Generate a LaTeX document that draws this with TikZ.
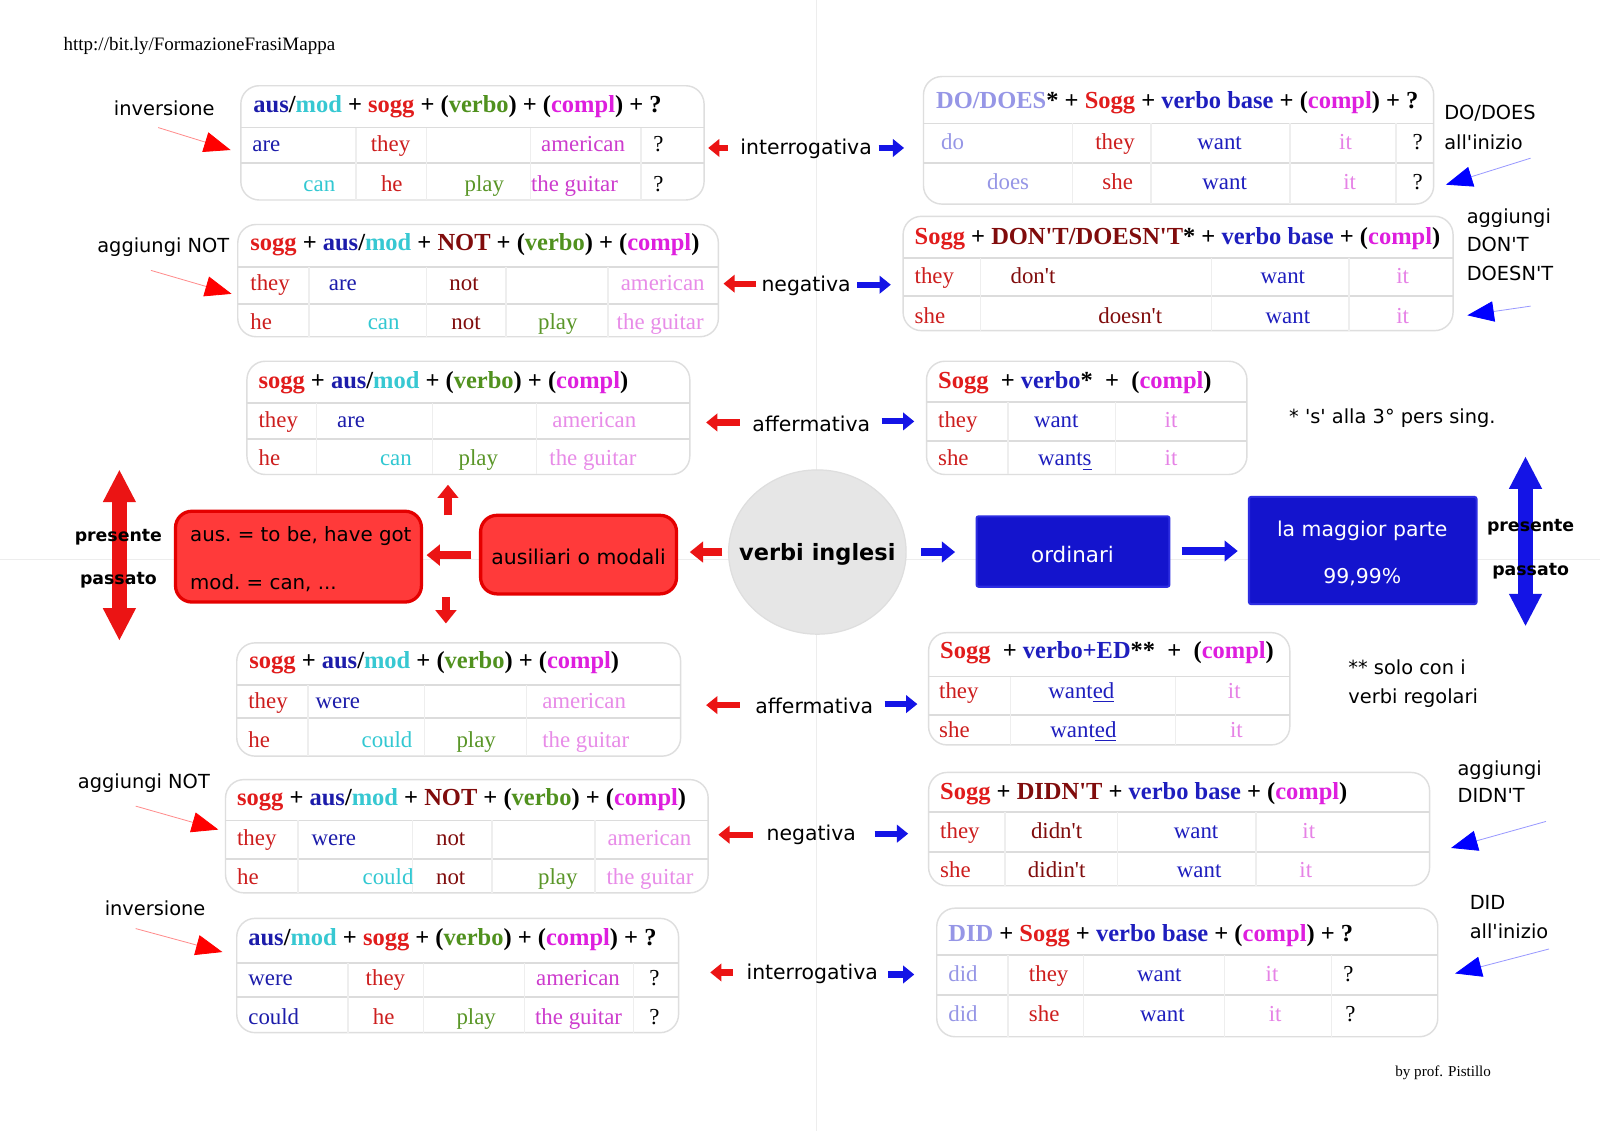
\documentclass[tikz,border=0pt]{standalone}
\usepackage{fontspec}
\setmainfont{Liberation Serif}
\newfontfamily\lab{DejaVu Sans}
\usetikzlibrary{arrows.meta,fit,shapes.geometric}
\definecolor{cSogg}{RGB}{225,28,28}
\definecolor{cAus}{RGB}{28,28,170}
\definecolor{cMod}{RGB}{55,200,210}
\definecolor{cVerbo}{RGB}{80,145,30}
\definecolor{cCompl}{RGB}{222,30,222}
\definecolor{cNot}{RGB}{128,12,12}
\definecolor{cDo}{RGB}{150,150,230}
\definecolor{cBase}{RGB}{30,30,190}
\definecolor{cThey}{RGB}{205,30,30}
\definecolor{cAmA}{RGB}{205,60,205}
\definecolor{cAmB}{RGB}{232,140,232}
\definecolor{cIt}{RGB}{230,130,230}
\definecolor{cPlay}{RGB}{90,150,40}
\definecolor{cCan}{RGB}{50,200,210}
\definecolor{cBorder}{RGB}{222,222,222}
\definecolor{cRow}{RGB}{220,220,220}
\definecolor{cCol}{RGB}{238,238,238}
\definecolor{cArrRed}{RGB}{235,20,20}
\definecolor{cArrBlue}{RGB}{20,20,230}
\definecolor{cRedFill}{RGB}{255,58,58}
\definecolor{cRedDraw}{RGB}{228,0,0}
\definecolor{cBlueFill}{RGB}{20,20,205}
\definecolor{cBlueDraw}{RGB}{45,45,225}
\definecolor{cCirc}{RGB}{230,230,230}
\newcommand\C[2]{\textcolor{#1}{#2}}
\newcommand\ap{\textquotesingle}
\tikzset{
 tbl/.style={draw=cBorder, line width=0.7pt, rounded corners=9pt, fill=white, inner sep=0pt},
 rowl/.style={draw=cRow, line width=0.9pt},
 coll/.style={draw=cCol, line width=0.7pt},
 hdr/.style={anchor=mid west, inner sep=0pt, yshift=-1.5pt, font=\fontsize{12}{14}\selectfont\bfseries},
 cell/.style={anchor=mid west, inner sep=0pt, yshift=-1.5pt, font=\fontsize{11.2}{13}\selectfont},
 lbl/.style={inner sep=0pt, yshift=-1pt, font=\lab\fontsize{9.5}{11}\selectfont},
 lblw/.style={lbl, anchor=mid west},
 lblc/.style={inner sep=0pt, yshift=-1pt, font=\lab\fontsize{10}{12}\selectfont},
 lblb/.style={inner sep=0pt, yshift=-1.5pt, font=\lab\bfseries\fontsize{8.5}{10}\selectfont},
 smallred/.style={draw=cArrRed, line width=3pt, -{Triangle[length=5.5pt,width=8.5pt]}},
 smallblue/.style={draw=cArrBlue, line width=3pt, -{Triangle[length=5.5pt,width=8.5pt]}},
 midred/.style={draw=cArrRed, line width=4pt, -{Triangle[length=6.5pt,width=10pt]}},
 midblue/.style={draw=cArrBlue, line width=4pt, -{Triangle[length=6.5pt,width=10pt]}},
 bigred/.style={draw=cArrRed, line width=7pt, {Triangle[length=16pt,width=15pt]}-{Triangle[length=16pt,width=15pt]}},
 bigblue/.style={draw=cArrBlue, line width=7pt, {Triangle[length=16pt,width=15pt]}-{Triangle[length=16pt,width=15pt]}},
 ptrred/.style={draw=red!45, line width=0.4pt, -{Triangle[length=13pt,width=10pt,color=red]}},
 ptrblue/.style={draw=blue!40, line width=0.4pt, -{Triangle[length=13pt,width=10pt,color=blue]}},
 redbox/.style={fill=cRedFill, draw=cRedDraw, line width=1.6pt, rounded corners=8pt, inner sep=0pt},
 bluebox/.style={fill=cBlueFill, draw=cBlueDraw, line width=1pt, rounded corners=1pt, inner sep=0pt},
 boxtxt/.style={inner sep=0pt, yshift=-1pt, font=\lab\fontsize{10}{12}\selectfont},
}
\newcommand\tablebox[8]{%
 \node[tbl, fit={(#2,#3) (#4,#5)}] (#1) {};
 \draw[rowl] (#2,#6) -- (#4,#6);
 \draw[rowl] (#2,#7) -- (#4,#7);
 \foreach \cx in {#8} \draw[coll] (\cx,#6) -- (\cx,#5);
}
\newcommand\cl[5]{\node[cell,text=#4] (#1) at (#2,#3) {#5};}
\newcommand\hd[4]{\node[hdr] (#1) at (#2,#3) {#4};}
\begin{document}
\begin{tikzpicture}[x=0.5pt,y=-0.5pt]
\useasboundingbox (0,0) rectangle (1568,1108);
\fill[white] (0,0) rectangle (1568,1108);
% faint page lines
\draw[black!7, line width=0.6pt] (800,0) -- (800,1108);
\draw[black!7, line width=0.6pt] (0,548) -- (1568,548);

\node[anchor=mid west, inner sep=0pt, yshift=-1pt, font=\fontsize{9.3}{11}\selectfont] (url) at (62,43) {http://bit.ly/FormazioneFrasiMappa};
\node[anchor=mid west, inner sep=0pt, yshift=-1pt, font=\fontsize{7.4}{9}\selectfont] (by) at (1367,1048) {by prof. Pistillo};

% ---------- T1
\tablebox{t1}{236}{84}{690}{196}{125}{160}{349,418,520,628}
\hd{t1h}{248}{103}{\C{cAus}{aus}/\C{cMod}{mod} + \C{cSogg}{sogg} + (\C{cVerbo}{verbo}) + (\C{cCompl}{compl}) + ?}
\cl{t1a}{247}{141}{cAus}{are}
\cl{t1b}{363}{141}{cThey}{they}
\cl{t1c}{530}{141}{cAmA}{american}
\cl{t1d}{640}{141}{black}{?}
\cl{t1e}{297}{180}{cCan}{can}
\cl{t1f}{373}{180}{cThey}{he}
\cl{t1g}{455}{180}{cPlay}{play}
\cl{t1i}{520}{180}{cAmA}{the guitar}
\cl{t1j}{640}{180}{black}{?}

% ---------- T2
\tablebox{t2}{905}{75}{1405}{200}{121}{160}{1051,1128,1264,1368}
\hd{t2h}{917}{99}{\C{cDo}{DO/DOES}* + \C{cSogg}{Sogg} + \C{cBase}{verbo base} + (\C{cCompl}{compl}) + ?}
\cl{t2a}{922}{139}{cDo}{do}
\cl{t2b}{1073}{139}{cThey}{they}
\cl{t2c}{1173}{139}{cBase}{want}
\cl{t2d}{1312}{139}{cIt}{it}
\cl{t2e}{1384}{139}{black}{?}
\cl{t2f}{967}{178}{cDo}{does}
\cl{t2g}{1080}{178}{cThey}{she}
\cl{t2i}{1178}{178}{cBase}{want}
\cl{t2j}{1316}{178}{cIt}{it}
\cl{t2k}{1384}{178}{black}{?}

% ---------- T3
\tablebox{t3}{233}{220}{704}{330}{262}{298}{303,418,496,596}
\hd{t3h}{245}{238}{\C{cSogg}{sogg} + \C{cAus}{aus}/\C{cMod}{mod} + \C{cNot}{NOT} + (\C{cVerbo}{verbo}) + (\C{cCompl}{compl})}
\cl{t3a}{245}{277}{cThey}{they}
\cl{t3b}{322}{277}{cAus}{are}
\cl{t3c}{440}{277}{cNot}{not}
\cl{t3d}{608}{277}{cAmB}{american}
\cl{t3e}{245}{315}{cThey}{he}
\cl{t3f}{360}{315}{cCan}{can}
\cl{t3g}{442}{315}{cNot}{not}
\cl{t3i}{527}{315}{cPlay}{play}
\cl{t3j}{604}{315}{cAmB}{the guitar}

% ---------- T4
\tablebox{t4}{885}{212}{1424}{324}{253}{290}{961,1187,1322}
\hd{t4h}{896}{232}{\C{cSogg}{Sogg} + \C{cNot}{DON\ap T/DOESN\ap T}* + \C{cBase}{verbo base} + (\C{cCompl}{compl})}
\cl{t4a}{896}{270}{cThey}{they}
\cl{t4b}{990}{270}{cNot}{don\ap t}
\cl{t4c}{1235}{270}{cBase}{want}
\cl{t4d}{1368}{270}{cIt}{it}
\cl{t4e}{896}{309}{cThey}{she}
\cl{t4f}{1076}{309}{cNot}{doesn\ap t}
\cl{t4g}{1240}{309}{cBase}{want}
\cl{t4i}{1368}{309}{cIt}{it}

% ---------- T5
\tablebox{t5}{242}{354}{676}{465}{395}{430}{310,424,526}
\hd{t5h}{253}{373}{\C{cSogg}{sogg} + \C{cAus}{aus}/\C{cMod}{mod} + (\C{cVerbo}{verbo}) + (\C{cCompl}{compl})}
\cl{t5a}{253}{411}{cThey}{they}
\cl{t5b}{330}{411}{cAus}{are}
\cl{t5c}{541}{411}{cAmB}{american}
\cl{t5d}{253}{449}{cThey}{he}
\cl{t5e}{372}{449}{cCan}{can}
\cl{t5f}{449}{449}{cPlay}{play}
\cl{t5g}{538}{449}{cAmB}{the guitar}

% ---------- T6
\tablebox{t6}{908}{354}{1222}{465}{394}{432}{988,1093}
\hd{t6h}{919}{373}{\C{cSogg}{Sogg}\ \ + \C{cBase}{verbo}*\ \ +\ \ (\C{cCompl}{compl})}
\cl{t6a}{919}{411}{cThey}{they}
\cl{t6b}{1013}{411}{cBase}{want}
\cl{t6c}{1141}{411}{cIt}{it}
\cl{t6d}{919}{449}{cThey}{she}
\cl{t6e}{1017}{449}{cBase}{want\underline{s}}
\cl{t6f}{1141}{449}{cIt}{it}

% ---------- T7
\tablebox{t7}{232}{630}{667}{741}{671}{704}{302,416,516}
\hd{t7h}{244}{648}{\C{cSogg}{sogg} + \C{cAus}{aus}/\C{cMod}{mod} + (\C{cVerbo}{verbo}) + (\C{cCompl}{compl})}
\cl{t7a}{243}{687}{cThey}{they}
\cl{t7b}{309}{687}{cAus}{were}
\cl{t7c}{531}{687}{cAmB}{american}
\cl{t7d}{243}{725}{cThey}{he}
\cl{t7e}{354}{725}{cCan}{could}
\cl{t7f}{447}{725}{cPlay}{play}
\cl{t7g}{531}{725}{cAmB}{the guitar}

% ---------- T8
\tablebox{t8}{910}{620}{1264}{730}{663}{701}{990,1152}
\hd{t8h}{921}{638}{\C{cSogg}{Sogg}\ \ + \C{cBase}{verbo+ED}**\ \ +\ \ (\C{cCompl}{compl})}
\cl{t8a}{920}{677}{cThey}{they}
\cl{t8b}{1027}{677}{cBase}{want\underline{ed}}
\cl{t8c}{1203}{677}{cIt}{it}
\cl{t8d}{920}{715}{cThey}{she}
\cl{t8e}{1029}{715}{cBase}{want\underline{ed}}
\cl{t8f}{1205}{715}{cIt}{it}

% ---------- T9
\tablebox{t9}{221}{764}{694}{875}{804}{842}{292,404,482,583}
\hd{t9h}{232}{782}{\C{cSogg}{sogg} + \C{cAus}{aus}/\C{cMod}{mod} + \C{cNot}{NOT} + (\C{cVerbo}{verbo}) + (\C{cCompl}{compl})}
\cl{t9a}{232}{821}{cThey}{they}
\cl{t9b}{305}{821}{cAus}{were}
\cl{t9c}{427}{821}{cNot}{not}
\cl{t9d}{595}{821}{cAmB}{american}
\cl{t9e}{232}{859}{cThey}{he}
\cl{t9f}{355}{859}{cCan}{could}
\cl{t9g}{427}{859}{cNot}{not}
\cl{t9i}{527}{859}{cPlay}{play}
\cl{t9j}{594}{859}{cAmB}{the guitar}

% ---------- T10
\tablebox{t10}{910}{757}{1401}{868}{796}{835}{985,1095,1231}
\hd{t10h}{921}{776}{\C{cSogg}{Sogg} + \C{cNot}{DIDN\ap T} + \C{cBase}{verbo base} + (\C{cCompl}{compl})}
\cl{t10a}{921}{814}{cThey}{they}
\cl{t10b}{1010}{814}{cNot}{didn\ap t}
\cl{t10c}{1150}{814}{cBase}{want}
\cl{t10d}{1276}{814}{cIt}{it}
\cl{t10e}{921}{852}{cThey}{she}
\cl{t10f}{1007}{852}{cNot}{didin\ap t}
\cl{t10g}{1153}{852}{cBase}{want}
\cl{t10i}{1273}{852}{cIt}{it}

% ---------- T11
\tablebox{t11}{232}{900}{665}{1012}{944}{977}{341,415,514,621}
\hd{t11h}{243}{919}{\C{cAus}{aus}/\C{cMod}{mod} + \C{cSogg}{sogg} + (\C{cVerbo}{verbo}) + (\C{cCompl}{compl}) + ?}
\cl{t11a}{243}{958}{cAus}{were}
\cl{t11b}{358}{958}{cThey}{they}
\cl{t11c}{525}{958}{cAmA}{american}
\cl{t11d}{636}{958}{black}{?}
\cl{t11e}{243}{996}{cAus}{could}
\cl{t11f}{365}{996}{cThey}{he}
\cl{t11g}{447}{996}{cPlay}{play}
\cl{t11i}{524}{996}{cAmA}{the guitar}
\cl{t11j}{636}{996}{black}{?}

% ---------- T12
\tablebox{t12}{918}{890}{1409}{1016}{936}{975}{988,1062,1200,1305}
\hd{t12h}{929}{915}{\C{cDo}{DID} + \C{cSogg}{Sogg} + \C{cBase}{verbo base} + (\C{cCompl}{compl}) + ?}
\cl{t12a}{929}{954}{cDo}{did}
\cl{t12b}{1008}{954}{cThey}{they}
\cl{t12c}{1114}{954}{cBase}{want}
\cl{t12d}{1240}{954}{cIt}{it}
\cl{t12e}{1316}{954}{black}{?}
\cl{t12f}{929}{993}{cDo}{did}
\cl{t12g}{1008}{993}{cThey}{she}
\cl{t12i}{1117}{993}{cBase}{want}
\cl{t12j}{1243}{993}{cIt}{it}
\cl{t12k}{1318}{993}{black}{?}

% ---------- side labels
\node[lbl] (inv1) at (161,104) {inversione};
\node[lbl] (agg1) at (160,240) {aggiungi NOT};
\node[lblw] (dod1) at (1415,111) {DO/DOES};
\node[lblw] (dod2) at (1415,140) {all\ap inizio};
\node[lblw] (don1) at (1437,212) {aggiungi};
\node[lblw] (don2) at (1437,240) {DON\ap T};
\node[lblw] (don3) at (1437,268) {DOESN\ap T};
\node[lblw] (star) at (1263,408) {* \ap s\ap\ alla 3° pers sing.};
\node[lblw] (sstar1) at (1321,654) {** solo con i};
\node[lblw] (sstar2) at (1321,683) {verbi regolari};
\node[lbl] (agg2) at (141,765) {aggiungi NOT};
\node[lblw] (did1) at (1428,753) {aggiungi};
\node[lblw] (did2) at (1428,780) {DIDN\ap T};
\node[lbl] (inv2) at (152,888) {inversione};
\node[lblw] (di1) at (1440,885) {DID};
\node[lblw] (di2) at (1440,913) {all\ap inizio};

% pointer arrows
\coordinate (p1s) at (155,125); \coordinate (p1e) at (226,147);
\coordinate (p2s) at (148,265); \coordinate (p2e) at (227,288);
\coordinate (p3s) at (133,790); \coordinate (p3e) at (214,813);
\coordinate (p4s) at (133,910); \coordinate (p4e) at (218,933);
\draw[ptrred] (p1s) -- (p1e);
\draw[ptrred] (p2s) -- (p2e);
\draw[ptrred] (p3s) -- (p3e);
\draw[ptrred] (p4s) -- (p4e);
\coordinate (b1s) at (1500,155); \coordinate (b1e) at (1417,181);
\coordinate (b2s) at (1500,300); \coordinate (b2e) at (1438,309);
\coordinate (b3s) at (1515,805); \coordinate (b3e) at (1422,831);
\coordinate (b4s) at (1518,930); \coordinate (b4e) at (1426,954);
\draw[ptrblue] (b1s) -- (b1e);
\draw[ptrblue] (b2s) -- (b2e);
\draw[ptrblue] (b3s) -- (b3e);
\draw[ptrblue] (b4s) -- (b4e);

% ---------- centre labels with arrows
\node[lblc] (q1) at (790,144) {interrogativa};
\node[lblc] (n1) at (790,278) {negativa};
\node[lblc] (a1) at (795,413) {affermativa};
\node[lblc] (a2) at (798,690) {affermativa};
\node[lblc] (n2) at (795,816) {negativa};
\node[lblc] (q2) at (796,952) {interrogativa};
\coordinate (q1r) at (713,145); \coordinate (q1re) at (694,145);
\coordinate (q1b) at (861,145); \coordinate (q1be) at (886,145);
\coordinate (n1r) at (741,278); \coordinate (n1re) at (709,278);
\coordinate (n1b) at (840,279); \coordinate (n1be) at (873,279);
\coordinate (a1r) at (725,414); \coordinate (a1re) at (692,414);
\coordinate (a1b) at (864,413); \coordinate (a1be) at (896,413);
\coordinate (a2r) at (725,691); \coordinate (a2re) at (692,691);
\coordinate (a2b) at (867,690); \coordinate (a2be) at (899,690);
\coordinate (n2r) at (738,818); \coordinate (n2re) at (704,818);
\coordinate (n2b) at (857,817); \coordinate (n2be) at (890,817);
\coordinate (q2r) at (718,953); \coordinate (q2re) at (696,953);
\coordinate (q2b) at (870,955); \coordinate (q2be) at (896,955);
\draw[smallred] (q1r) -- (q1re);
\draw[smallblue] (q1b) -- (q1be);
\draw[smallred] (n1r) -- (n1re);
\draw[smallblue] (n1b) -- (n1be);
\draw[smallred] (a1r) -- (a1re);
\draw[smallblue] (a1b) -- (a1be);
\draw[smallred] (a2r) -- (a2re);
\draw[smallblue] (a2b) -- (a2be);
\draw[smallred] (n2r) -- (n2re);
\draw[smallblue] (n2b) -- (n2be);
\draw[smallred] (q2r) -- (q2re);
\draw[smallblue] (q2b) -- (q2be);

% ---------- middle row
\node[redbox, fit={(172,501) (413,590)}] (aux) {};
\node[boxtxt, anchor=mid west, font=\lab\fontsize{9.7}{12}\selectfont] (aux1) at (186,524) {aus.\ = to be, have got};
\node[boxtxt, anchor=mid west, font=\lab\fontsize{9.7}{12}\selectfont] (aux2) at (186,571) {mod.\ = can, ...};
\node[redbox, fit={(471,505) (663,582)}] (am) {};
\node[boxtxt] (amt) at (567,544) {ausiliari o modali};
\node[ellipse, fill=cCirc, draw=black!13, line width=0.6pt, minimum width=87pt, minimum height=80.5pt, inner sep=0pt] (vi) at (801,541) {};
\node[inner sep=0pt, yshift=-1pt, font=\lab\bfseries\fontsize{11}{13}\selectfont] (vit) at (vi.center) {verbi inglesi};
\node[bluebox, fit={(957,506) (1146,575)}] (ord) {};
\node[boxtxt, text=white, font=\lab\fontsize{10.5}{12}\selectfont] (ordt) at (1051,541) {ordinari};
\node[bluebox, fit={(1224,487) (1447,592)}] (maj) {};
\node[boxtxt, text=white] (maj1) at (1335,518) {la maggior parte};
\node[boxtxt, text=white] (maj2) at (1335,564) {99,99\%};

\coordinate (m1s) at (708,541); \coordinate (m1e) at (676,541);
\coordinate (m2s) at (462,544); \coordinate (m2e) at (418,544);
\coordinate (m3s) at (439,505); \coordinate (m3e) at (439,475);
\coordinate (m4s) at (437,585); \coordinate (m4e) at (437,611);
\coordinate (m5s) at (903,541); \coordinate (m5e) at (936,541);
\coordinate (m6s) at (1158,540); \coordinate (m6e) at (1213,540);
\draw[midred] (m1s) -- (m1e);
\draw[midred] (m2s) -- (m2e);
\draw[midred] (m3s) -- (m3e);
\draw[midred] (m4s) -- (m4e);
\draw[midblue] (m5s) -- (m5e);
\draw[midblue] (m6s) -- (m6e);

\coordinate (r1) at (117,460); \coordinate (r2) at (117,628);
\draw[bigred] (r1) -- (r2);
\coordinate (u1) at (1495,447); \coordinate (u2) at (1495,614);
\draw[bigblue] (u1) -- (u2);
\node[lblb] (pl1) at (116,523) {presente};
\node[lblb] (pl2) at (116,566) {passato};
\node[lblb] (pr1) at (1500,514) {presente};
\node[lblb] (pr2) at (1500,557) {passato};
\end{tikzpicture}
\end{document}
